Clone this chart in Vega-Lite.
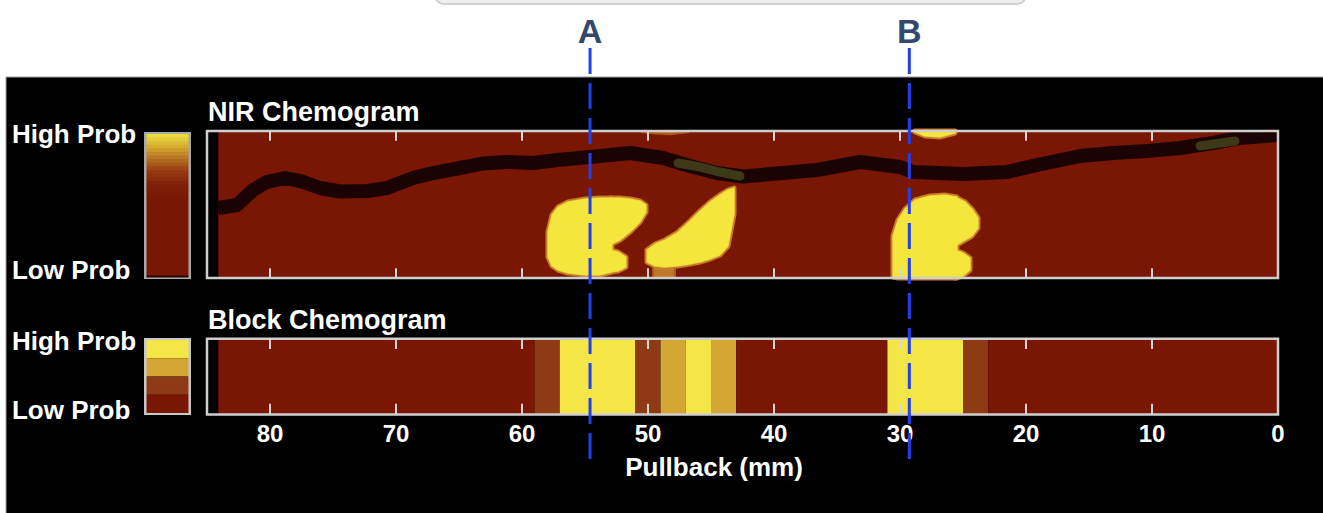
{
  "$schema": "https://vega.github.io/schema/vega-lite/v6.json",
  "width": 1323,
  "height": 513,
  "autosize": {"type": "none"},
  "padding": 0,
  "background": "white",
  "config": {"view": {"stroke": null}, "font": "Liberation Sans"},
  "datasets": {
    "lumen": [
      {"mm": 84.13, "angle": 171.4}, {"mm": 82.62, "angle": 178.8}, {"mm": 81.35, "angle": 215.5}, {"mm": 80.24, "angle": 235.1},
      {"mm": 78.81, "angle": 244.9}, {"mm": 77.62, "angle": 237.6}, {"mm": 76.03, "angle": 220.4}, {"mm": 74.44, "angle": 211.8},
      {"mm": 72.30, "angle": 213.1}, {"mm": 70.71, "angle": 220.4}, {"mm": 68.65, "angle": 244.9}, {"mm": 67.06, "angle": 257.1},
      {"mm": 64.92, "angle": 269.4}, {"mm": 63.10, "angle": 280.4}, {"mm": 61.19, "angle": 284.1}, {"mm": 59.13, "angle": 281.6},
      {"mm": 57.22, "angle": 289.0}, {"mm": 54.60, "angle": 296.3}, {"mm": 51.43, "angle": 306.1}, {"mm": 48.81, "angle": 293.9},
      {"mm": 46.67, "angle": 274.3}, {"mm": 44.52, "angle": 257.1}, {"mm": 42.46, "angle": 248.6}, {"mm": 39.29, "angle": 257.1},
      {"mm": 36.59, "angle": 264.5}, {"mm": 33.17, "angle": 284.1}, {"mm": 30.0, "angle": 271.8}, {"mm": 28.97, "angle": 259.6},
      {"mm": 25.0, "angle": 254.7}, {"mm": 21.51, "angle": 259.6}, {"mm": 19.13, "angle": 276.7}, {"mm": 15.71, "angle": 298.8},
      {"mm": 13.10, "angle": 306.1}, {"mm": 10.40, "angle": 311.0}, {"mm": 7.78, "angle": 318.4}, {"mm": 5.16, "angle": 330.6},
      {"mm": 3.02, "angle": 342.9}, {"mm": 0.08, "angle": 350.2}
    ],
    "patches": [
      {"patch": "p1", "mm": 47.62, "angle": 281.6}, {"patch": "p1", "mm": 45.87, "angle": 271.8},
      {"patch": "p1", "mm": 44.29, "angle": 259.6}, {"patch": "p1", "mm": 42.70, "angle": 249.8},
      {"patch": "p2", "mm": 6.19, "angle": 323.3}, {"patch": "p2", "mm": 3.41, "angle": 335.5}
    ],
    "lesions": [
      {"region": "A1", "mm": 57.94, "top": 112.7, "bottom": 51.4}, {"region": "A1", "mm": 57.62, "top": 154.3, "bottom": 29.4},
      {"region": "A1", "mm": 57.14, "top": 173.9, "bottom": 19.6}, {"region": "A1", "mm": 56.35, "top": 186.1, "bottom": 12.2},
      {"region": "A1", "mm": 55.0, "top": 193.5, "bottom": 7.3}, {"region": "A1", "mm": 53.81, "top": 195.9, "bottom": 7.3},
      {"region": "A1", "mm": 52.86, "top": 195.9, "bottom": 14.7},
      {"region": "A2", "mm": 53.02, "top": 195.9, "bottom": 80.8}, {"region": "A2", "mm": 52.22, "top": 195.9, "bottom": 93.1},
      {"region": "A2", "mm": 51.43, "top": 193.5, "bottom": 112.7}, {"region": "A2", "mm": 50.63, "top": 188.6, "bottom": 137.1},
      {"region": "A2", "mm": 50.16, "top": 178.8, "bottom": 161.6},
      {"region": "A3", "mm": 53.02, "top": 68.6, "bottom": 14.7}, {"region": "A3", "mm": 52.38, "top": 63.7, "bottom": 17.1},
      {"region": "A3", "mm": 51.75, "top": 51.4, "bottom": 26.9},
      {"region": "M", "mm": 50.08, "top": 68.6, "bottom": 39.2}, {"region": "M", "mm": 49.44, "top": 83.3, "bottom": 29.4},
      {"region": "M", "mm": 48.65, "top": 93.1, "bottom": 26.9}, {"region": "M", "mm": 47.70, "top": 110.2, "bottom": 29.4},
      {"region": "M", "mm": 46.67, "top": 139.6, "bottom": 34.3}, {"region": "M", "mm": 45.87, "top": 164.1, "bottom": 39.2},
      {"region": "M", "mm": 45.08, "top": 186.1, "bottom": 46.5}, {"region": "M", "mm": 44.29, "top": 203.3, "bottom": 56.3},
      {"region": "M", "mm": 43.65, "top": 215.5, "bottom": 78.4}, {"region": "M", "mm": 43.17, "top": 220.4, "bottom": 156.7},
      {"region": "B1", "mm": 30.56, "top": 102.9, "bottom": 2.4}, {"region": "B1", "mm": 30.16, "top": 142.0, "bottom": 0},
      {"region": "B1", "mm": 29.60, "top": 169.0, "bottom": 0}, {"region": "B1", "mm": 28.81, "top": 191.0, "bottom": 0},
      {"region": "B1", "mm": 27.62, "top": 200.8, "bottom": 0}, {"region": "B1", "mm": 26.43, "top": 203.3, "bottom": 0},
      {"region": "B1", "mm": 25.48, "top": 198.4, "bottom": 0},
      {"region": "B2", "mm": 25.63, "top": 198.4, "bottom": 78.4}, {"region": "B2", "mm": 24.84, "top": 186.1, "bottom": 93.1},
      {"region": "B2", "mm": 24.29, "top": 169.0, "bottom": 102.9}, {"region": "B2", "mm": 23.81, "top": 146.9, "bottom": 122.4},
      {"region": "B3", "mm": 25.63, "top": 68.6, "bottom": 0}, {"region": "B3", "mm": 25.0, "top": 61.2, "bottom": 4.9},
      {"region": "B3", "mm": 24.44, "top": 49.0, "bottom": 19.6},
      {"region": "T2", "mm": 28.81, "top": 360, "bottom": 357.6}, {"region": "T2", "mm": 28.02, "top": 360, "bottom": 347.8},
      {"region": "T2", "mm": 26.83, "top": 360, "bottom": 345.3}, {"region": "T2", "mm": 25.63, "top": 360, "bottom": 355}
    ],
    "faint": [
      {"region": "T1", "mm": 50.5, "top": 360, "bottom": 357.6}, {"region": "T1", "mm": 49.4, "top": 360, "bottom": 354},
      {"region": "T1", "mm": 48.2, "top": 360, "bottom": 352}, {"region": "T1", "mm": 46.8, "top": 360, "bottom": 357},
      {"region": "S1", "mm": 49.60, "top": 31.8, "bottom": 0}, {"region": "S1", "mm": 48.81, "top": 36.7, "bottom": 0},
      {"region": "S1", "mm": 47.86, "top": 29.4, "bottom": 0}
    ],
    "blocks": [
      {"mm0": 84.1, "mm1": 59, "prob": 0.2}, {"mm0": 59, "mm1": 57, "prob": 0.7}, {"mm0": 57, "mm1": 51, "prob": 0.99},
      {"mm0": 51, "mm1": 49, "prob": 0.7}, {"mm0": 49, "mm1": 47, "prob": 0.9}, {"mm0": 47, "mm1": 45, "prob": 0.99},
      {"mm0": 45, "mm1": 43, "prob": 0.9}, {"mm0": 43, "mm1": 31, "prob": 0.2}, {"mm0": 31, "mm1": 25, "prob": 0.99},
      {"mm0": 25, "mm1": 23, "prob": 0.7}, {"mm0": 23, "mm1": 0, "prob": 0.2}
    ],
    "ticks": [{"mm": 80}, {"mm": 70}, {"mm": 60}, {"mm": 50}, {"mm": 40}, {"mm": 30}, {"mm": 20}, {"mm": 10}],
    "tickLabels": [{"mm": 80}, {"mm": 70}, {"mm": 60}, {"mm": 50}, {"mm": 40}, {"mm": 30}, {"mm": 20}, {"mm": 10}, {"mm": 0}],
    "markers": [{"label": "A", "mm": 54.6}, {"label": "B", "mm": 29.26}],
    "nirScale": [
      {"p0": 0, "p1": 0.018, "prob": 0},
      {"p0": 0.014, "p1": 0.555, "prob": 0.3},
      {"p0": 0.55, "p1": 0.58, "prob": 0.5625}, {"p0": 0.575, "p1": 0.605, "prob": 0.5875},
      {"p0": 0.6, "p1": 0.63, "prob": 0.6125}, {"p0": 0.625, "p1": 0.655, "prob": 0.6375},
      {"p0": 0.65, "p1": 0.68, "prob": 0.6625}, {"p0": 0.675, "p1": 0.705, "prob": 0.6875},
      {"p0": 0.7, "p1": 0.73, "prob": 0.7125}, {"p0": 0.725, "p1": 0.755, "prob": 0.7375},
      {"p0": 0.75, "p1": 0.78, "prob": 0.7625}, {"p0": 0.775, "p1": 0.805, "prob": 0.7875},
      {"p0": 0.8, "p1": 0.83, "prob": 0.8125}, {"p0": 0.825, "p1": 0.855, "prob": 0.8375},
      {"p0": 0.85, "p1": 0.88, "prob": 0.8625}, {"p0": 0.875, "p1": 0.905, "prob": 0.8875},
      {"p0": 0.9, "p1": 0.93, "prob": 0.9125}, {"p0": 0.925, "p1": 0.955, "prob": 0.9375},
      {"p0": 0.95, "p1": 0.98, "prob": 0.9625}, {"p0": 0.975, "p1": 1.0, "prob": 0.9875}
    ],
    "blockScale": [
      {"level": "≥0.98"}, {"level": "0.84–0.98"}, {"level": "0.57–0.84"}, {"level": "<0.57"}
    ]
  },
  "resolve": {"scale": {"y": "independent", "color": "independent"}},
  "layer": [
    {
      "layer": [
        {
          "data": {"values": [{"part": "figure panel"}]},
          "mark": {"type": "rect", "fill": "black", "stroke": "#9a9a9a", "strokeWidth": 1},
          "encoding": {
            "x": {"datum": 100.95, "type": "quantitative", "scale": {"domain": [85, 0], "range": [207, 1278], "nice": false, "zero": false}, "axis": null},
            "x2": {"datum": -5},
            "y": {"datum": 492.2, "type": "quantitative", "scale": {"domain": [0, 360], "range": [278, 131], "nice": false, "zero": false}, "axis": null},
            "y2": {"datum": -600}
          }
        },
        {
          "data": {"values": [{"part": "card"}]},
          "mark": {"type": "rect", "fill": "#eeeeee", "stroke": "#d0d0d0", "strokeWidth": 2, "cornerRadius": 9},
          "encoding": {
            "x": {"datum": 66.9, "type": "quantitative", "scale": {"domain": [85, 0], "range": [207, 1278], "nice": false, "zero": false}, "axis": null},
            "x2": {"datum": 20.0},
            "y": {"datum": 671, "type": "quantitative", "scale": {"domain": [0, 360], "range": [278, 131], "nice": false, "zero": false}, "axis": null},
            "y2": {"datum": 740}
          }
        },
        {
          "data": {"values": [{"track": "NIR chemogram"}]},
          "mark": {"type": "rect", "fill": "#7a1604"},
          "encoding": {
            "x": {"datum": 84.1, "type": "quantitative", "scale": {"domain": [85, 0], "range": [207, 1278], "nice": false, "zero": false}, "axis": null},
            "x2": {"datum": 0},
            "y": {"datum": 0, "type": "quantitative", "scale": {"domain": [0, 360], "range": [278, 131], "nice": false, "zero": false}, "axis": null},
            "y2": {"datum": 360}
          }
        },
        {
          "data": {"name": "faint"},
          "mark": {"type": "area", "fill": "#c9822c", "stroke": "#b0621e", "strokeWidth": 2, "opacity": 0.9},
          "encoding": {
            "x": {"field": "mm", "type": "quantitative", "scale": {"domain": [85, 0], "range": [207, 1278], "nice": false, "zero": false}, "axis": null},
            "y": {"field": "top", "type": "quantitative", "scale": {"domain": [0, 360], "range": [278, 131], "nice": false, "zero": false}, "axis": null},
            "y2": {"field": "bottom"},
            "detail": {"field": "region", "type": "nominal"}
          }
        },
        {
          "data": {"name": "lesions"},
          "mark": {"type": "area", "fill": "#c8782a", "stroke": "#c8782a", "strokeWidth": 5, "strokeJoin": "round"},
          "encoding": {
            "x": {"field": "mm", "type": "quantitative", "scale": {"domain": [85, 0], "range": [207, 1278], "nice": false, "zero": false}, "axis": null},
            "y": {"field": "top", "type": "quantitative", "scale": {"domain": [0, 360], "range": [278, 131], "nice": false, "zero": false}, "axis": null},
            "y2": {"field": "bottom"},
            "detail": {"field": "region", "type": "nominal"}
          }
        },
        {
          "data": {"name": "lesions"},
          "mark": {"type": "area", "fill": "#f4e63c", "stroke": "#e9cf38", "strokeWidth": 1.5, "strokeJoin": "round"},
          "encoding": {
            "x": {"field": "mm", "type": "quantitative", "scale": {"domain": [85, 0], "range": [207, 1278], "nice": false, "zero": false}, "axis": null},
            "y": {"field": "top", "type": "quantitative", "scale": {"domain": [0, 360], "range": [278, 131], "nice": false, "zero": false}, "axis": null},
            "y2": {"field": "bottom"},
            "detail": {"field": "region", "type": "nominal"}
          }
        },
        {
          "data": {"name": "lesions"},
          "mark": {"type": "area", "fill": "#f4e63c"},
          "encoding": {
            "x": {"field": "mm", "type": "quantitative", "scale": {"domain": [85, 0], "range": [207, 1278], "nice": false, "zero": false}, "axis": null},
            "y": {"field": "top", "type": "quantitative", "scale": {"domain": [0, 360], "range": [278, 131], "nice": false, "zero": false}, "axis": null},
            "y2": {"field": "bottom"},
            "detail": {"field": "region", "type": "nominal"}
          }
        },
        {
          "data": {"name": "lumen"},
          "mark": {"type": "line", "color": "#1c0303", "strokeWidth": 14, "strokeJoin": "round", "strokeCap": "butt"},
          "encoding": {
            "x": {"field": "mm", "type": "quantitative", "scale": {"domain": [85, 0], "range": [207, 1278], "nice": false, "zero": false}, "axis": null},
            "y": {"field": "angle", "type": "quantitative", "scale": {"domain": [0, 360], "range": [278, 131], "nice": false, "zero": false}, "axis": null}
          }
        },
        {
          "data": {"name": "patches"},
          "mark": {"type": "line", "color": "#43421a", "strokeWidth": 9, "strokeCap": "round", "opacity": 0.85},
          "encoding": {
            "x": {"field": "mm", "type": "quantitative", "scale": {"domain": [85, 0], "range": [207, 1278], "nice": false, "zero": false}, "axis": null},
            "y": {"field": "angle", "type": "quantitative", "scale": {"domain": [0, 360], "range": [278, 131], "nice": false, "zero": false}, "axis": null},
            "detail": {"field": "patch", "type": "nominal"}
          }
        },
        {
          "data": {"name": "blocks"},
          "mark": {"type": "rect"},
          "encoding": {
            "x": {"field": "mm0", "type": "quantitative", "scale": {"domain": [85, 0], "range": [207, 1278], "nice": false, "zero": false}, "axis": null},
            "x2": {"field": "mm1"},
            "y": {"datum": -148.5, "type": "quantitative", "scale": {"domain": [0, 360], "range": [278, 131], "nice": false, "zero": false}, "axis": null},
            "y2": {"datum": -334},
            "color": {
              "field": "prob", "type": "quantitative",
              "scale": {"type": "threshold", "domain": [0.57, 0.84, 0.98], "range": ["#7a1604", "#8e3a14", "#d4a735", "#f5e648"]},
              "legend": null
            }
          }
        },
        {
          "data": {"values": [{"track": "NIR chemogram"}]},
          "mark": {"type": "rect", "filled": false, "stroke": "#cfcfcf", "strokeWidth": 2.5},
          "encoding": {
            "x": {"datum": 85, "type": "quantitative", "scale": {"domain": [85, 0], "range": [207, 1278], "nice": false, "zero": false}, "axis": null},
            "x2": {"datum": 0},
            "y": {"datum": 0, "type": "quantitative", "scale": {"domain": [0, 360], "range": [278, 131], "nice": false, "zero": false}, "axis": null},
            "y2": {"datum": 360}
          }
        },
        {
          "data": {"values": [{"track": "Block chemogram"}]},
          "mark": {"type": "rect", "filled": false, "stroke": "#cfcfcf", "strokeWidth": 2.5},
          "encoding": {
            "x": {"datum": 85, "type": "quantitative", "scale": {"domain": [85, 0], "range": [207, 1278], "nice": false, "zero": false}, "axis": null},
            "x2": {"datum": 0},
            "y": {"datum": -148.5, "type": "quantitative", "scale": {"domain": [0, 360], "range": [278, 131], "nice": false, "zero": false}, "axis": null},
            "y2": {"datum": -334}
          }
        },
        {
          "data": {"name": "ticks"},
          "mark": {"type": "rule", "color": "#d6d6d6", "strokeWidth": 2},
          "encoding": {
            "x": {"field": "mm", "type": "quantitative", "scale": {"domain": [85, 0], "range": [207, 1278], "nice": false, "zero": false}, "axis": null},
            "y": {"datum": 360, "type": "quantitative", "scale": {"domain": [0, 360], "range": [278, 131], "nice": false, "zero": false}, "axis": null},
            "y2": {"datum": 336}
          }
        },
        {
          "data": {"name": "ticks"},
          "mark": {"type": "rule", "color": "#d6d6d6", "strokeWidth": 2},
          "encoding": {
            "x": {"field": "mm", "type": "quantitative", "scale": {"domain": [85, 0], "range": [207, 1278], "nice": false, "zero": false}, "axis": null},
            "y": {"datum": 0, "type": "quantitative", "scale": {"domain": [0, 360], "range": [278, 131], "nice": false, "zero": false}, "axis": null},
            "y2": {"datum": 24}
          }
        },
        {
          "data": {"name": "ticks"},
          "mark": {"type": "rule", "color": "#d6d6d6", "strokeWidth": 2},
          "encoding": {
            "x": {"field": "mm", "type": "quantitative", "scale": {"domain": [85, 0], "range": [207, 1278], "nice": false, "zero": false}, "axis": null},
            "y": {"datum": -148.5, "type": "quantitative", "scale": {"domain": [0, 360], "range": [278, 131], "nice": false, "zero": false}, "axis": null},
            "y2": {"datum": -174}
          }
        },
        {
          "data": {"name": "ticks"},
          "mark": {"type": "rule", "color": "#d6d6d6", "strokeWidth": 2},
          "encoding": {
            "x": {"field": "mm", "type": "quantitative", "scale": {"domain": [85, 0], "range": [207, 1278], "nice": false, "zero": false}, "axis": null},
            "y": {"datum": -334, "type": "quantitative", "scale": {"domain": [0, 360], "range": [278, 131], "nice": false, "zero": false}, "axis": null},
            "y2": {"datum": -308}
          }
        },
        {
          "data": {"name": "tickLabels"},
          "mark": {"type": "text", "align": "center", "baseline": "alphabetic", "fontSize": 24, "fontWeight": "bold", "color": "white"},
          "encoding": {
            "x": {"field": "mm", "type": "quantitative", "scale": {"domain": [85, 0], "range": [207, 1278], "nice": false, "zero": false}, "axis": null},
            "y": {"datum": -401.6, "type": "quantitative", "scale": {"domain": [0, 360], "range": [278, 131], "nice": false, "zero": false}, "axis": null},
            "text": {"field": "mm", "type": "quantitative"}
          }
        },
        {
          "data": {"values": [{"label": "Pullback (mm)"}]},
          "mark": {"type": "text", "align": "center", "baseline": "alphabetic", "fontSize": 26, "fontWeight": "bold", "color": "white"},
          "encoding": {
            "x": {"datum": 44.76, "type": "quantitative", "scale": {"domain": [85, 0], "range": [207, 1278], "nice": false, "zero": false}, "axis": null},
            "y": {"datum": -484.9, "type": "quantitative", "scale": {"domain": [0, 360], "range": [278, 131], "nice": false, "zero": false}, "axis": null},
            "text": {"field": "label"}
          }
        },
        {
          "data": {"values": [{"legend": "NIR colour bar"}]},
          "mark": {"type": "rect", "filled": false, "stroke": "#a8a8a8", "strokeWidth": 3},
          "encoding": {
            "x": {"datum": 89.88, "type": "quantitative", "scale": {"domain": [85, 0], "range": [207, 1278], "nice": false, "zero": false}, "axis": null},
            "x2": {"datum": 86.39},
            "y": {"datum": 1.2, "type": "quantitative", "scale": {"domain": [0, 360], "range": [278, 131], "nice": false, "zero": false}, "axis": null},
            "y2": {"datum": 354}
          }
        },
        {
          "data": {"values": [{"legend": "Block colour bar"}]},
          "mark": {"type": "rect", "filled": false, "stroke": "#c8c8c8", "strokeWidth": 3},
          "encoding": {
            "x": {"datum": 89.88, "type": "quantitative", "scale": {"domain": [85, 0], "range": [207, 1278], "nice": false, "zero": false}, "axis": null},
            "x2": {"datum": 86.39},
            "y": {"datum": -150.6, "type": "quantitative", "scale": {"domain": [0, 360], "range": [278, 131], "nice": false, "zero": false}, "axis": null},
            "y2": {"datum": -332}
          }
        },
        {
          "data": {"values": [{"label": "NIR Chemogram"}]},
          "mark": {"type": "text", "align": "left", "baseline": "alphabetic", "fontSize": 27, "fontWeight": "bold", "color": "white"},
          "encoding": {
            "x": {"datum": 84.92, "type": "quantitative", "scale": {"domain": [85, 0], "range": [207, 1278], "nice": false, "zero": false}, "axis": null},
            "y": {"datum": 384.5, "type": "quantitative", "scale": {"domain": [0, 360], "range": [278, 131], "nice": false, "zero": false}, "axis": null},
            "text": {"field": "label"}
          }
        },
        {
          "data": {"values": [{"label": "Block Chemogram"}]},
          "mark": {"type": "text", "align": "left", "baseline": "alphabetic", "fontSize": 27, "fontWeight": "bold", "color": "white"},
          "encoding": {
            "x": {"datum": 84.92, "type": "quantitative", "scale": {"domain": [85, 0], "range": [207, 1278], "nice": false, "zero": false}, "axis": null},
            "y": {"datum": -124.9, "type": "quantitative", "scale": {"domain": [0, 360], "range": [278, 131], "nice": false, "zero": false}, "axis": null},
            "text": {"field": "label"}
          }
        },
        {
          "data": {"values": [{"label": "High Prob"}]},
          "mark": {"type": "text", "align": "left", "baseline": "alphabetic", "fontSize": 26, "fontWeight": "bold", "color": "white"},
          "encoding": {
            "x": {"datum": 100.48, "type": "quantitative", "scale": {"domain": [85, 0], "range": [207, 1278], "nice": false, "zero": false}, "axis": null},
            "y": {"datum": 330.6, "type": "quantitative", "scale": {"domain": [0, 360], "range": [278, 131], "nice": false, "zero": false}, "axis": null},
            "text": {"field": "label"}
          }
        },
        {
          "data": {"values": [{"label": "Low Prob"}]},
          "mark": {"type": "text", "align": "left", "baseline": "alphabetic", "fontSize": 26, "fontWeight": "bold", "color": "white"},
          "encoding": {
            "x": {"datum": 100.48, "type": "quantitative", "scale": {"domain": [85, 0], "range": [207, 1278], "nice": false, "zero": false}, "axis": null},
            "y": {"datum": -2.4, "type": "quantitative", "scale": {"domain": [0, 360], "range": [278, 131], "nice": false, "zero": false}, "axis": null},
            "text": {"field": "label"}
          }
        },
        {
          "data": {"values": [{"label": "High Prob"}]},
          "mark": {"type": "text", "align": "left", "baseline": "alphabetic", "fontSize": 26, "fontWeight": "bold", "color": "white"},
          "encoding": {
            "x": {"datum": 100.48, "type": "quantitative", "scale": {"domain": [85, 0], "range": [207, 1278], "nice": false, "zero": false}, "axis": null},
            "y": {"datum": -176.3, "type": "quantitative", "scale": {"domain": [0, 360], "range": [278, 131], "nice": false, "zero": false}, "axis": null},
            "text": {"field": "label"}
          }
        },
        {
          "data": {"values": [{"label": "Low Prob"}]},
          "mark": {"type": "text", "align": "left", "baseline": "alphabetic", "fontSize": 26, "fontWeight": "bold", "color": "white"},
          "encoding": {
            "x": {"datum": 100.48, "type": "quantitative", "scale": {"domain": [85, 0], "range": [207, 1278], "nice": false, "zero": false}, "axis": null},
            "y": {"datum": -345.3, "type": "quantitative", "scale": {"domain": [0, 360], "range": [278, 131], "nice": false, "zero": false}, "axis": null},
            "text": {"field": "label"}
          }
        },
        {
          "data": {"name": "markers"},
          "mark": {"type": "rule", "color": "#2140ee", "strokeWidth": 3, "strokeDash": [26, 9]},
          "encoding": {
            "x": {"field": "mm", "type": "quantitative", "scale": {"domain": [85, 0], "range": [207, 1278], "nice": false, "zero": false}, "axis": null},
            "y": {"datum": 563.3, "type": "quantitative", "scale": {"domain": [0, 360], "range": [278, 131], "nice": false, "zero": false}, "axis": null},
            "y2": {"datum": -453.1}
          }
        },
        {
          "data": {"name": "markers"},
          "mark": {"type": "text", "align": "center", "baseline": "alphabetic", "fontSize": 34, "fontWeight": "bold", "color": "#34486b"},
          "encoding": {
            "x": {"field": "mm", "type": "quantitative", "scale": {"domain": [85, 0], "range": [207, 1278], "nice": false, "zero": false}, "axis": null},
            "y": {"datum": 575.5, "type": "quantitative", "scale": {"domain": [0, 360], "range": [278, 131], "nice": false, "zero": false}, "axis": null},
            "text": {"field": "label"}
          }
        }
      ]
    },
    {
      "data": {"name": "nirScale"},
      "mark": {"type": "rect"},
      "encoding": {
        "x": {"datum": 89.8, "type": "quantitative", "scale": {"domain": [85, 0], "range": [207, 1278], "nice": false, "zero": false}, "axis": null},
        "x2": {"datum": 86.47},
        "y": {"field": "p0", "type": "quantitative", "scale": {"domain": [0, 1], "range": [277.5, 134], "nice": false, "zero": false}, "axis": null},
        "y2": {"field": "p1"},
        "color": {
          "field": "prob", "type": "quantitative",
          "scale": {"domain": [0, 0.03, 0.55, 0.65, 0.75, 0.84, 0.92, 1.0], "range": ["#2a0503", "#7a1604", "#7a1604", "#7f2008", "#983f14", "#b97a26", "#d6b233", "#efe23c"]},
          "legend": null
        }
      }
    },
    {
      "data": {"name": "blockScale"},
      "mark": {"type": "rect"},
      "encoding": {
        "x": {"datum": 89.8, "type": "quantitative", "scale": {"domain": [85, 0], "range": [207, 1278], "nice": false, "zero": false}, "axis": null},
        "x2": {"datum": 86.47},
        "y": {"field": "level", "type": "ordinal", "sort": null, "scale": {"domain": ["≥0.98", "0.84–0.98", "0.57–0.84", "<0.57"], "range": [340, 413], "paddingInner": 0, "paddingOuter": 0}, "axis": null},
        "color": {
          "field": "level", "type": "nominal",
          "scale": {"domain": ["≥0.98", "0.84–0.98", "0.57–0.84", "<0.57"], "range": ["#f5e648", "#d4a735", "#8e3a14", "#7a1604"]},
          "legend": null
        }
      }
    }
  ]
}
